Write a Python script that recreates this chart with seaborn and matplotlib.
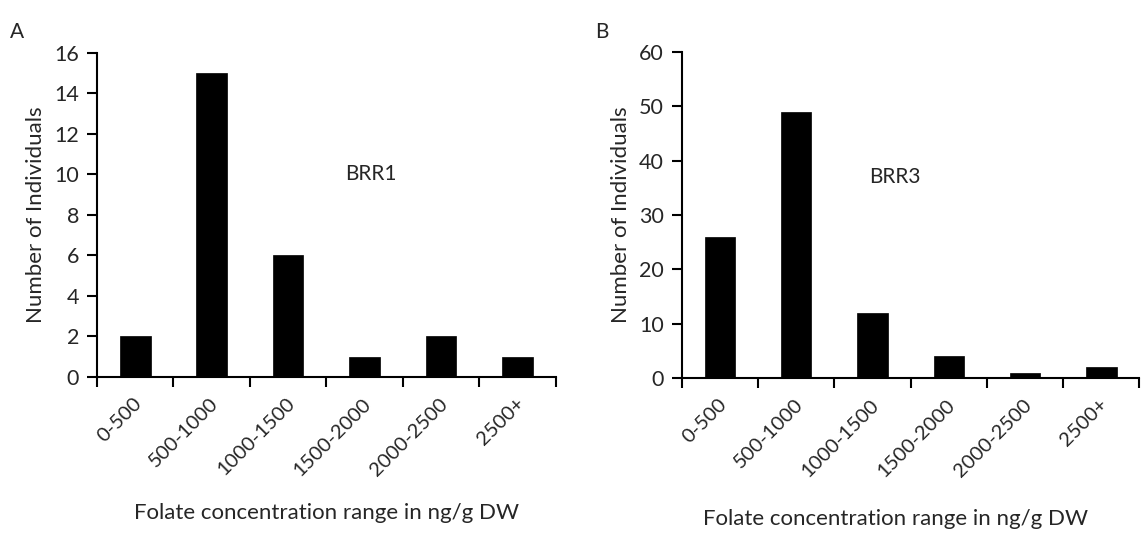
import matplotlib
matplotlib.use("Agg")
import matplotlib.pyplot as plt
import seaborn as sns
import pandas as pd
import numpy as np

categories = ["0-500", "500-1000", "1000-1500", "1500-2000", "2000-2500", "2500+"]
brr1_counts = [2, 15, 6, 1, 2, 1]
brr3_counts = [26, 49, 12, 4, 1, 2]
brr1_yticks = [0, 2, 4, 6, 8, 10, 12, 14, 16]
brr3_yticks = [0, 10, 20, 30, 40, 50, 60]

sns.set_theme(style="white")
plt.rcParams["font.family"] = ["Lato", "DejaVu Sans"]

fig = plt.figure(figsize=(11.44, 5.40), dpi=100)
ax1 = fig.add_axes([0.0848, 0.302, 0.401, 0.600])
ax2 = fig.add_axes([0.596, 0.300, 0.400, 0.604])

def draw(ax, counts, yticks, label, lx, ly):
    df = pd.DataFrame({"cat": categories, "n": counts})
    sns.barplot(data=df, x="cat", y="n", ax=ax, color="black", width=0.4,
                saturation=1, edgecolor="black", linewidth=0.5)
    ax.set_xlim(-0.5, len(categories) - 0.5)
    ax.set_ylim(yticks[0], yticks[-1])
    ax.set_yticks(yticks)
    ax.set_yticklabels([str(t) for t in yticks], fontsize=15.5)
    ax.set_xticks(np.arange(len(categories) + 1) - 0.5)
    ax.set_xticklabels([])
    ax.set_xticks(np.arange(len(categories)) - 0.03, minor=True)
    ax.set_xticklabels(categories, minor=True, rotation=45, ha="right",
                       rotation_mode="anchor", fontsize=14.5)
    ax.tick_params(axis="x", which="minor", length=0, pad=13)
    ax.tick_params(axis="x", which="major", direction="out", length=7, width=1.5,
                   color="black", bottom=True)
    ax.tick_params(axis="y", direction="out", length=7, width=1.5, color="black",
                   left=True, pad=6)
    for s in ["top", "right"]:
        ax.spines[s].set_visible(False)
    for s in ["left", "bottom"]:
        ax.spines[s].set_color("black")
        ax.spines[s].set_linewidth(1.5)
    ax.set_xlabel("Folate concentration range in ng/g DW", fontsize=16)
    ax.xaxis.label.set_va("center")
    ax.set_ylabel("Number of Individuals", fontsize=16, labelpad=6)
    ax.text(lx, ly, label, fontsize=15, ha="left", va="center")

draw(ax1, brr1_counts, brr1_yticks, "BRR1", 2.74, 10)
draw(ax2, brr3_counts, brr3_yticks, "BRR3", 1.95, 37)
ax1.xaxis.set_label_coords(0.50, -(513 - 377) / (0.600 * 540))
ax2.xaxis.set_label_coords(0.468, -(519 - 378) / (0.604 * 540))

fig.text(0.009, 0.94, "A", fontsize=15, ha="left", va="center")
fig.text(0.520, 0.94, "B", fontsize=15, ha="left", va="center")

fig.savefig("out.png", dpi=100)
